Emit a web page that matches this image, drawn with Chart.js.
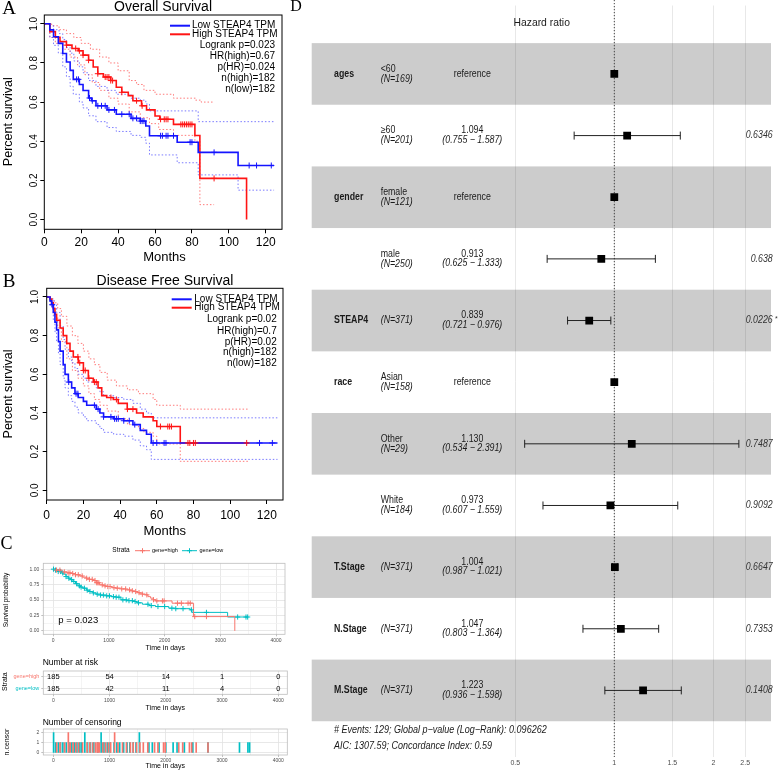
<!DOCTYPE html>
<html>
<head>
<meta charset="utf-8">
<title>STEAP4 survival</title>
<script src="https://cdn.jsdelivr.net/npm/chart.js@4.4.1/dist/chart.umd.min.js"></script>
<style>
  html, body { margin: 0; padding: 0; background: #fff; }
  #fig { position: relative; width: 778px; height: 772px; overflow: hidden; }
  #fig canvas { position: absolute; }
</style>
</head>
<body>
<div id="fig">
  <canvas id="cA" width="290" height="264" style="left:0;top:0"></canvas>
  <canvas id="cB" width="290" height="276" style="left:0;top:264px"></canvas>
  <canvas id="cC1" width="290" height="120" style="left:0;top:535px"></canvas>
  <canvas id="cC2" width="290" height="60" style="left:0;top:655px"></canvas>
  <canvas id="cC3" width="290" height="57" style="left:0;top:715px"></canvas>
  <canvas id="cD" width="488" height="772" style="left:290px;top:0"></canvas>
</div>
<script>
// ---------- data ----------
const monthTicks = [0, 20, 40, 60, 80, 100, 120];
const survTicks = [0, 0.2, 0.4, 0.6, 0.8, 1.0];

// A: overall survival, [months, survival]
const osLow = [[0,1],[3,0.969],[5,0.934],[7.6,0.9],[10,0.848],[12,0.805],[14,0.762],[15.7,0.716],[19,0.69],[21,0.659],[24,0.621],[25.6,0.607],[28,0.581],[34,0.56],[39,0.538],[47,0.517],[52,0.503],[55,0.478],[57,0.428],[72,0.395],[83.4,0.343],[105,0.276],[124.5,0.276]];
const osHigh = [[0,1],[3,0.96],[6,0.931],[8.5,0.909],[12,0.891],[15,0.874],[18.4,0.862],[21,0.84],[24,0.814],[26.5,0.779],[29,0.745],[32,0.728],[36,0.71],[39,0.676],[42,0.65],[45.5,0.633],[48,0.607],[52.7,0.581],[55.4,0.56],[60,0.529],[62.6,0.512],[70,0.486],[81.6,0.429],[84.3,0.21],[109.6,0]];
const osLowUp = [[0,1],[3,0.99],[5,0.97],[8,0.95],[10,0.92],[12,0.88],[14,0.85],[16,0.81],[19,0.78],[21,0.75],[24,0.71],[28,0.68],[34,0.66],[39,0.64],[47,0.62],[52,0.61],[55,0.59],[57,0.555],[83.4,0.5],[124.5,0.5]];
const osLowLo = [[0,1],[3,0.93],[5,0.89],[7.6,0.85],[10,0.78],[12,0.73],[14,0.68],[15.7,0.64],[19,0.6],[21,0.57],[24,0.53],[28,0.5],[34,0.47],[39,0.45],[47,0.43],[52,0.42],[55,0.39],[57,0.33],[72,0.29],[83.4,0.228],[105,0.15],[124.5,0.15]];
const osHighUp = [[0,1],[4,0.99],[8,0.97],[12,0.95],[16,0.93],[20,0.9],[25,0.87],[30,0.83],[35,0.8],[40,0.76],[46,0.71],[50,0.69],[54,0.66],[60,0.64],[70,0.62],[82,0.61],[85,0.6],[92,0.6]];
const osHighLo = [[0,1],[3,0.93],[6,0.9],[10,0.87],[14,0.83],[18,0.79],[22,0.74],[26,0.7],[30,0.66],[35,0.62],[40,0.59],[46,0.55],[52,0.52],[57,0.49],[62,0.46],[70,0.43],[81.6,0.4],[84.3,0.076],[92,0.076]];
const osLowCens = [17.5, 18.5, 24.5, 26, 29, 31, 33, 35, 38, 42, 46, 48, 50, 52, 53, 54, 63, 64, 66, 67, 70, 79, 80, 92, 111, 115, 123];
const osHighCens = [12, 17, 19, 21, 24, 29, 33, 34, 35, 36, 37, 42, 50, 53, 63, 65, 66, 67, 74, 75, 76, 77, 78, 79, 80, 92];

// B: disease free survival, [months, survival]
const dfsLow = [[0,1],[1.8,0.98],[2.7,0.96],[3.6,0.92],[4.5,0.87],[5.4,0.83],[6.4,0.77],[7.3,0.72],[9,0.65],[10,0.6],[11.8,0.56],[13.6,0.53],[15.4,0.5],[17.2,0.48],[20,0.46],[21.8,0.44],[27,0.42],[29,0.4],[31,0.38],[36.5,0.37],[42,0.36],[47,0.34],[51,0.31],[54.4,0.29],[57,0.245],[125.8,0.245]];
const dfsHigh = [[0,1],[1.8,0.99],[2.7,0.97],[3.6,0.94],[4.5,0.91],[5.4,0.88],[7.3,0.84],[9,0.8],[10.9,0.76],[12.7,0.72],[14.5,0.69],[17.2,0.66],[20,0.62],[22.7,0.58],[25.4,0.56],[28,0.53],[30,0.49],[32.7,0.48],[36.3,0.47],[39,0.45],[43.9,0.42],[49,0.4],[52.6,0.38],[58,0.36],[60,0.33],[72.8,0.245],[110,0.245]];
const dfsLowUp = [[0,1],[2,0.99],[4,0.96],[5.4,0.92],[7.3,0.85],[9,0.78],[10,0.73],[11.8,0.69],[13.6,0.66],[15.4,0.63],[17.2,0.6],[20,0.58],[21.8,0.56],[27,0.53],[29,0.51],[31,0.49],[36.5,0.48],[42,0.47],[47,0.45],[51,0.42],[54.4,0.4],[57,0.375],[125.8,0.375]];
const dfsLowLo = [[0,1],[2,0.95],[3.6,0.88],[4.5,0.82],[5.4,0.77],[6.4,0.71],[7.3,0.65],[9,0.58],[10,0.53],[11.8,0.49],[13.6,0.46],[15.4,0.43],[17.2,0.4],[20,0.38],[21.8,0.36],[27,0.34],[29,0.32],[31,0.3],[36.5,0.29],[42,0.28],[47,0.26],[51,0.23],[54.4,0.21],[57,0.16],[125.8,0.16]];
const dfsHighUp = [[0,1],[2,0.99],[4,0.97],[6,0.94],[8,0.9],[11,0.85],[14,0.8],[17,0.76],[20,0.72],[23,0.68],[26,0.65],[29,0.61],[33,0.57],[38,0.54],[44,0.52],[50,0.5],[58,0.47],[60,0.44],[72.8,0.42],[110,0.42]];
const dfsHighLo = [[0,1],[2,0.96],[4,0.9],[6,0.84],[8,0.77],[11,0.68],[14,0.62],[17,0.58],[20,0.54],[23,0.5],[26,0.47],[29,0.44],[33,0.41],[39,0.37],[44,0.34],[50,0.32],[53,0.3],[58,0.28],[60,0.24],[72.8,0.15],[110,0.15]];
const dfsLowCens = [3, 12, 16, 17, 26, 28, 31, 35, 37, 38, 39, 42, 45, 48, 58, 60, 64, 65, 116, 123];
const dfsHighCens = [17, 18, 20, 21, 23, 26, 27, 35, 38, 44, 47, 62, 66, 67, 68, 77, 78, 80, 81, 109];

// C: survival in days, number at risk, censoring
const dayTicks = [0, 1000, 2000, 3000, 4000];
const dayMinor = [500, 1500, 2500, 3500];
const probTicks = [0, 0.25, 0.5, 0.75, 1];
const probMinor = [0.125, 0.375, 0.625, 0.875];
const kmHigh = [[0,1],[60,0.985],[148,0.955],[250,0.94],[326,0.93],[400,0.91],[474,0.89],[530,0.87],[593,0.854],[650,0.835],[711,0.816],[770,0.78],[830,0.746],[900,0.73],[948,0.719],[1050,0.7],[1126,0.692],[1220,0.68],[1304,0.665],[1380,0.65],[1422,0.638],[1500,0.62],[1541,0.611],[1600,0.595],[1659,0.584],[1700,0.555],[1748,0.53],[1800,0.505],[1837,0.486],[2133,0.449],[2519,0.232],[3259,0]];
const kmLow = [[0,1],[30,0.985],[89,0.962],[140,0.94],[178,0.919],[230,0.88],[267,0.854],[310,0.83],[356,0.8],[400,0.765],[444,0.73],[490,0.71],[533,0.692],[600,0.66],[652,0.638],[710,0.615],[770,0.595],[850,0.58],[948,0.568],[1040,0.555],[1126,0.546],[1215,0.503],[1320,0.49],[1422,0.476],[1500,0.455],[1600,0.432],[1720,0.41],[1837,0.395],[2074,0.368],[2200,0.36],[2459,0.341],[2489,0.3],[3130,0.225],[3490,0.225]];
const censHighDays = [60, 120, 200, 267, 300, 350, 400, 450, 520, 600, 650, 700, 750, 780, 800, 820, 880, 930, 980, 1020, 1090, 1150, 1230, 1300, 1370, 1420, 1480, 1540, 1600, 1680, 1800, 1860, 1960, 1990, 2230, 2300, 2420, 2460, 2540, 2750];
const censHighN = [1, 1, 1, 2, 1, 1, 1, 1, 1, 1, 1, 1, 1, 1, 1, 1, 1, 1, 1, 1, 2, 1, 1, 1, 1, 1, 1, 1, 1, 1, 1, 1, 1, 1, 1, 1, 1, 1, 1, 1];
const censLowDays = [5, 40, 90, 130, 170, 230, 280, 330, 370, 420, 470, 500, 560, 610, 660, 720, 790, 850, 900, 960, 1010, 1080, 1130, 1180, 1250, 1310, 1360, 1420, 1470, 1530, 1700, 1760, 1880, 2000, 2130, 2200, 2330, 2480, 2750, 3310, 3460, 3490];
const censLowN = [2, 1, 1, 1, 1, 1, 1, 1, 1, 1, 1, 1, 2, 1, 1, 1, 1, 2, 1, 1, 1, 1, 1, 1, 1, 1, 1, 1, 1, 2, 1, 1, 1, 1, 1, 1, 1, 1, 1, 1, 1, 1];
const riskGroups = ['gene=high', 'gene=low'];
const riskDays = [0, 1000, 2000, 3000, 4000];
const riskHigh = [185, 54, 14, 1, 0];
const riskLow = [185, 42, 11, 4, 0];
const censTicks = [0, 1, 2];

// D: multivariate Cox model
const fpVars = ['ages', '', 'gender', '', 'STEAP4', 'race', '', '', 'T.Stage', 'N.Stage', 'M.Stage'];
const fpLevels = ['<60', '\u226560', 'female', 'male', '', 'Asian', 'Other', 'White', '', '', ''];
const fpN = [169, 201, 121, 250, 371, 158, 29, 184, 371, 371, 371];
const fpHR = [1, 1.094, 1, 0.913, 0.839, 1, 1.130, 0.973, 1.004, 1.047, 1.223];
const fpLow = [null, 0.755, null, 0.625, 0.721, null, 0.534, 0.607, 0.987, 0.803, 0.936];
const fpHigh = [null, 1.587, null, 1.333, 0.976, null, 2.391, 1.559, 1.021, 1.364, 1.598];
const fpP = ['', '0.6346', '', '0.638', '0.0226', '', '0.7487', '0.9092', '0.6647', '0.7353', '0.1408'];
const fpStar = ['', '', '', '', '*', '', '', '', '', '', ''];
const hrTicks = [0.5, 1, 1.5, 2, 2.5];

// ---------- look ----------
const SANS = '"Liberation Sans", Arial, Helvetica, sans-serif';
const SERIF = '"Liberation Serif", "Times New Roman", serif';
const BLUE = '#1414ff', RED = '#ff1414';
const BLUE_CI = 'rgba(90,90,255,0.8)', RED_CI = 'rgba(255,90,90,0.8)';
const SALMON = '#F8766D', TEAL = '#00BFC4';
const GG_TEXT = '#4d4d4d', GG_BORDER = '#bdbdbd', GG_MAJOR = '#e2e2e2', GG_MINOR = '#f1f1f1';

Chart.defaults.animation = false;
Chart.defaults.font.family = SANS;
Chart.defaults.plugins.legend.display = false;
Chart.defaults.plugins.tooltip.enabled = false;
Chart.defaults.responsive = false;

function pts(arr) { return arr.map(p => ({x: p[0], y: p[1]})); }
function stepAt(curve, t) {
  let v = curve[0][1];
  curve.forEach(p => { if (p[0] <= t) v = p[1]; });
  return v;
}
function txt(c, t, x, y, o) {
  o = o || {};
  c.save();
  c.font = o.font || ('10px ' + SANS);
  c.fillStyle = o.color || '#000';
  c.textAlign = o.align || 'center';
  c.textBaseline = 'middle';
  c.translate(x, y);
  if (o.rot) c.rotate(o.rot);
  if (o.sx) c.scale(o.sx, 1);
  c.fillText(t, 0, 0);
  c.restore();
}
function seg(c, x1, y1, x2, y2, color, lw, dash) {
  c.save();
  c.strokeStyle = color; c.lineWidth = lw || 1;
  if (dash) c.setLineDash(dash);
  c.beginPath(); c.moveTo(x1, y1); c.lineTo(x2, y2); c.stroke();
  c.restore();
}
const UP = -Math.PI / 2;

// ---------- A and B: GEPIA style KM plots ----------
function kmPanel(id, h, area, groups, deco) {
  const [L, T, R, B] = area;
  const ds = [];
  groups.forEach(g => {
    ds.push({data: pts(g.line), borderColor: g.color, borderWidth: 1.6, stepped: true, pointRadius: 0, order: 1});
    ds.push({data: g.cens.map(t => ({x: t, y: stepAt(g.line, t)})), showLine: false, pointStyle: 'cross',
             pointRadius: 3, borderColor: g.color, borderWidth: 1, order: 0});
    g.ci.forEach(b => ds.push({data: pts(b), borderColor: g.ciColor, borderWidth: 1, borderDash: [1.5, 2],
                               stepped: true, pointRadius: 0, order: 2}));
  });
  new Chart(document.getElementById(id), {
    type: 'line',
    data: {datasets: ds},
    options: {
      layout: {padding: {left: 0, top: T, right: 290 - R, bottom: 0}},
      scales: {
        x: {type: 'linear', min: 0, max: 128.8,
            afterFit: s => { s.height = h - B; },
            afterBuildTicks: s => { s.ticks = monthTicks.map(v => ({value: v})); },
            ticks: {autoSkip: false, maxRotation: 0, font: {size: 12}, color: '#000', padding: deco.xPad},
            grid: {drawOnChartArea: false, tickLength: 4, color: '#000'},
            border: {display: false}},
        y: {type: 'linear', min: -0.05, max: 1.045,
            afterFit: s => { s.width = L; },
            afterBuildTicks: s => { s.ticks = survTicks.map(v => ({value: v})); },
            ticks: {display: false},
            grid: {drawOnChartArea: false, tickLength: 4, color: '#000'},
            border: {display: false}}
      }
    },
    plugins: [{
      id: 'kmDeco',
      afterDraw(chart) {
        const c = chart.ctx, a = chart.chartArea, ys = chart.scales.y;
        c.save(); c.strokeStyle = '#000'; c.lineWidth = 1;
        c.strokeRect(a.left, a.top, a.width, a.height); c.restore();
        survTicks.forEach(v => txt(c, v.toFixed(1), deco.yTickX, ys.getPixelForValue(v), {font: '10px ' + SANS, rot: UP}));
        txt(c, deco.letter, deco.letterXY[0], deco.letterXY[1], {font: '19px ' + SERIF});
        txt(c, deco.title, deco.titleXY[0], deco.titleXY[1], {font: '14px ' + SANS});
        txt(c, 'Months', deco.xLabXY[0], deco.xLabXY[1], {font: '13px ' + SANS});
        txt(c, 'Percent survival', deco.yLabXY[0], deco.yLabXY[1], {font: '12.5px ' + SANS, rot: UP});
        const lg = deco.legend;
        lg.keys.forEach(k => {
          seg(c, lg.x1, k.y, lg.x2, k.y, k.color, 2);
          txt(c, k.t, lg.tx, k.y, {font: '10px ' + SANS, align: 'left'});
        });
        lg.stats.forEach(s => txt(c, s.t, lg.sx, s.y, {font: '10px ' + SANS, align: 'right'}));
      }
    }]
  });
}

kmPanel('cA', 264, [44.3, 15, 282, 229.3], [
  {line: osLow, cens: osLowCens, color: BLUE, ci: [osLowUp, osLowLo], ciColor: BLUE_CI},
  {line: osHigh, cens: osHighCens, color: RED, ci: [osHighUp, osHighLo], ciColor: RED_CI}
], {
  xPad: 2, yTickX: 34.5, letter: 'A', letterXY: [9, 9], title: 'Overall Survival', titleXY: [163, 7.5],
  xLabXY: [164.5, 257.5], yLabXY: [8.5, 121.7],
  legend: {x1: 170, x2: 190, tx: 192, sx: 275,
    keys: [{y: 25.7, color: BLUE, t: 'Low STEAP4 TPM'}, {y: 34.3, color: RED, t: 'High STEAP4 TPM'}],
    stats: [{y: 45, t: 'Logrank p=0.023'}, {y: 56.3, t: 'HR(high)=0.67'}, {y: 67.6, t: 'p(HR)=0.024'},
            {y: 78.6, t: 'n(high)=182'}, {y: 89.3, t: 'n(low)=182'}]}
});

kmPanel('cB', 276, [46.7, 24.3, 283, 236], [
  {line: dfsLow, cens: dfsLowCens, color: BLUE, ci: [dfsLowUp, dfsLowLo], ciColor: BLUE_CI},
  {line: dfsHigh, cens: dfsHighCens, color: RED, ci: [dfsHighUp, dfsHighLo], ciColor: RED_CI}
], {
  xPad: 4, yTickX: 35.5, letter: 'B', letterXY: [9, 17.7], title: 'Disease Free Survival', titleXY: [165, 17],
  xLabXY: [164.7, 267.7], yLabXY: [8.5, 130],
  legend: {x1: 171.7, x2: 191.7, tx: 194.3, sx: 276.7,
    keys: [{y: 35.3, color: BLUE, t: 'Low STEAP4 TPM'}, {y: 43.7, color: RED, t: 'High STEAP4 TPM'}],
    stats: [{y: 55.3, t: 'Logrank p=0.02'}, {y: 67, t: 'HR(high)=0.7'}, {y: 78.3, t: 'p(HR)=0.02'},
            {y: 88.7, t: 'n(high)=182'}, {y: 99.3, t: 'n(low)=182'}]}
});

// ---------- C: survminer style ----------
const DAY_MIN = -178, DAY_MAX = 4160;
function dayAxis(h, B, withMinor) {
  const all = withMinor ? dayTicks.concat(dayMinor) : dayTicks;
  return {
    type: 'linear', min: DAY_MIN, max: DAY_MAX, offset: false,
    afterFit: s => { s.height = h - B; },
    afterBuildTicks: s => { s.ticks = all.map(v => ({value: v})); },
    ticks: {autoSkip: false, maxRotation: 0, font: {size: 5}, color: GG_TEXT, padding: 1,
            callback: v => dayTicks.includes(v) ? String(v) : ''},
    grid: {offset: false, tickLength: 2, lineWidth: 0.8,
           color: ctx => dayTicks.includes(ctx.tick.value) ? GG_MAJOR : GG_MINOR,
           tickColor: ctx => dayTicks.includes(ctx.tick.value) ? '#b0b0b0' : 'rgba(0,0,0,0)'},
    border: {display: false}
  };
}
function ggBox(id) {
  return {id: id, afterDatasetsDraw(chart) {
    const c = chart.ctx, a = chart.chartArea;
    c.save(); c.strokeStyle = GG_BORDER; c.lineWidth = 0.8;
    c.strokeRect(a.left, a.top, a.width, a.height); c.restore();
  }};
}

// C1: KM curves
new Chart(document.getElementById('cC1'), {
  type: 'line',
  data: {datasets: [
    {data: pts(kmHigh), borderColor: SALMON, borderWidth: 1, stepped: true, pointRadius: 0, order: 1},
    {data: pts(kmLow), borderColor: TEAL, borderWidth: 1, stepped: true, pointRadius: 0, order: 1},
    {data: censHighDays.map(t => ({x: t, y: stepAt(kmHigh, t)})), showLine: false, pointStyle: 'cross',
     pointRadius: 2.6, borderColor: SALMON, borderWidth: 1, order: 0},
    {data: censLowDays.map(t => ({x: t, y: stepAt(kmLow, t)})), showLine: false, pointStyle: 'cross',
     pointRadius: 2.6, borderColor: TEAL, borderWidth: 1, order: 0}
  ]},
  options: {
    layout: {padding: {left: 0, top: 28.3, right: 290 - 287.3, bottom: 0}},
    scales: {
      x: dayAxis(120, 99.3, true),
      y: {type: 'linear', min: -0.055, max: 1.095,
          afterFit: s => { s.width = 43.3; },
          afterBuildTicks: s => { s.ticks = probTicks.concat(probMinor).map(v => ({value: v})); },
          ticks: {autoSkip: false, font: {size: 5}, color: GG_TEXT, padding: 2,
                  callback: v => probTicks.includes(v) ? v.toFixed(2) : ''},
          grid: {tickLength: 2, lineWidth: 0.8,
                 color: ctx => probTicks.includes(ctx.tick.value) ? GG_MAJOR : GG_MINOR,
                 tickColor: ctx => probTicks.includes(ctx.tick.value) ? '#b0b0b0' : 'rgba(0,0,0,0)'},
          border: {display: false}}
    }
  },
  plugins: [ggBox('c1box'), {
    id: 'c1deco',
    afterDraw(chart) {
      const c = chart.ctx;
      txt(c, 'C', 6.5, 9, {font: '18px ' + SERIF});
      txt(c, 'Strata', 121, 15.7, {font: '6.5px ' + SANS});
      [[135, 150, 152, SALMON, 'gene=high'], [182, 197, 199.5, TEAL, 'gene=low']].forEach(k => {
        seg(c, k[0], 15.7, k[1], 15.7, k[3], 1);
        const m = (k[0] + k[1]) / 2;
        seg(c, m - 2.5, 15.7, m + 2.5, 15.7, k[3], 1);
        seg(c, m, 13.2, m, 18.2, k[3], 1);
        txt(c, k[4], k[2], 15.7, {font: '5.5px ' + SANS, align: 'left'});
      });
      txt(c, 'Survival probability', 6.5, 65, {font: '6.5px ' + SANS, rot: UP});
      txt(c, 'Time in days', 165.3, 113.3, {font: '7px ' + SANS});
      txt(c, 'p = 0.023', 58.3, 85, {font: '9.5px ' + SANS, align: 'left'});
    }
  }]
});

// C2: number at risk
new Chart(document.getElementById('cC2'), {
  type: 'line',
  data: {datasets: []},
  options: {
    layout: {padding: {left: 0, top: 16, right: 290 - 287.3, bottom: 0}},
    scales: {
      x: dayAxis(60, 39.3, true),
      y: {type: 'category', labels: riskGroups, offset: true,
          afterFit: s => { s.width = 43.3; },
          ticks: {autoSkip: false, font: {size: 5.5}, padding: 2, color: ctx => ctx.index === 0 ? SALMON : TEAL},
          grid: {tickLength: 2, lineWidth: 0.8, color: GG_MAJOR, tickColor: '#b0b0b0'},
          border: {display: false}}
    }
  },
  plugins: [ggBox('c2box'), {
    id: 'c2deco',
    afterDraw(chart) {
      const c = chart.ctx, xs = chart.scales.x, ys = chart.scales.y;
      riskDays.forEach((d, i) => {
        txt(c, String(riskHigh[i]), xs.getPixelForValue(d), ys.getPixelForValue(0), {font: '7.5px ' + SANS});
        txt(c, String(riskLow[i]), xs.getPixelForValue(d), ys.getPixelForValue(1), {font: '7.5px ' + SANS});
      });
      txt(c, 'Number at risk', 42.7, 7.3, {font: '8.5px ' + SANS, align: 'left'});
      txt(c, 'Strata', 4.7, 26.7, {font: '7px ' + SANS, rot: UP});
      txt(c, 'Time in days', 165.3, 52.7, {font: '7px ' + SANS});
    }
  }]
});

// C3: number of censoring
new Chart(document.getElementById('cC3'), {
  type: 'bar',
  data: {datasets: [
    {data: censHighDays.map((t, i) => ({x: t, y: censHighN[i]})), backgroundColor: SALMON, barThickness: 1, grouped: false},
    {data: censLowDays.map((t, i) => ({x: t, y: censLowN[i]})), backgroundColor: TEAL, barThickness: 1, grouped: false}
  ]},
  options: {
    layout: {padding: {left: 0, top: 14, right: 290 - 287.3, bottom: 0}},
    scales: {
      x: dayAxis(57, 40, true),
      y: {type: 'linear', min: -0.23, max: 2.37,
          afterFit: s => { s.width = 43.3; },
          afterBuildTicks: s => { s.ticks = censTicks.map(v => ({value: v})); },
          ticks: {autoSkip: false, font: {size: 5}, color: GG_TEXT, padding: 2},
          grid: {tickLength: 2, lineWidth: 0.8, color: GG_MAJOR, tickColor: '#b0b0b0'},
          border: {display: false}}
    }
  },
  plugins: [ggBox('c3box'), {
    id: 'c3deco',
    afterDraw(chart) {
      const c = chart.ctx;
      txt(c, 'Number of censoring', 42.7, 7.7, {font: '8.5px ' + SANS, align: 'left'});
      txt(c, 'n.censor', 7, 27, {font: '7px ' + SANS, rot: UP});
      txt(c, 'Time in days', 165.3, 50.7, {font: '7px ' + SANS});
    }
  }]
});

// ---------- D: forest plot ----------
const FP_SX = 0.88;
const fpFont = (s, st) => (st || '') + ' ' + s + 'px ' + SANS;
new Chart(document.getElementById('cD'), {
  type: 'scatter',
  data: {datasets: [{
    data: fpHR.map((v, i) => ({x: v, y: i + 1})),
    pointStyle: 'rect', pointRadius: 5.5, backgroundColor: '#000', borderColor: '#000', borderWidth: 0
  }]},
  options: {
    layout: {padding: {left: 21.7, top: 3, right: 488 - 481, bottom: 0}},
    scales: {
      x: {type: 'logarithmic', min: 0.1203, max: 2.994,
          afterFit: s => { s.height = 772 - 757; },
          afterBuildTicks: s => { s.ticks = hrTicks.map(v => ({value: v})); },
          ticks: {autoSkip: false, maxRotation: 0, font: {size: 7}, color: GG_TEXT, padding: 2, callback: v => String(v)},
          grid: {drawTicks: false, color: '#e2e2e2', lineWidth: 0.8},
          border: {display: false}},
      y: {display: false, type: 'linear', min: -0.11, max: 12.08, reverse: true}
    }
  },
  plugins: [{
    id: 'forest',
    beforeDatasetsDraw(chart) {
      const c = chart.ctx, a = chart.chartArea, xs = chart.scales.x, ys = chart.scales.y;
      fpHR.forEach((v, i) => {
        if (i % 2 === 0) {
          const y1 = ys.getPixelForValue(i + 0.5), y2 = ys.getPixelForValue(i + 1.5);
          c.save(); c.fillStyle = 'rgba(0,0,0,0.2)'; c.fillRect(a.left, y1, a.width, y2 - y1); c.restore();
        }
      });
      const x1 = xs.getPixelForValue(1);
      seg(c, x1, 0, x1, a.bottom, '#444', 1, [1.2, 1.8]);
      fpHR.forEach((v, i) => {
        if (fpLow[i] === null) return;
        const y = ys.getPixelForValue(i + 1), l = xs.getPixelForValue(fpLow[i]), r = xs.getPixelForValue(fpHigh[i]);
        seg(c, l, y, r, y, '#222', 1);
        seg(c, l, y - 4, l, y + 4, '#222', 1);
        seg(c, r, y - 4, r, y + 4, '#222', 1);
      });
    },
    afterDraw(chart) {
      const c = chart.ctx, ys = chart.scales.y;
      const dark = '#1a1a1a';
      fpHR.forEach((v, i) => {
        const y = ys.getPixelForValue(i + 1);
        if (fpVars[i]) txt(c, fpVars[i], 44, y, {font: fpFont(10, 'bold'), color: dark, align: 'left', sx: FP_SX});
        const nTxt = '(N=' + fpN[i] + ')';
        if (fpLevels[i]) {
          txt(c, fpLevels[i], 90.7, y - 5, {font: fpFont(10), color: dark, align: 'left', sx: FP_SX});
          txt(c, nTxt, 90.7, y + 5, {font: fpFont(10, 'italic'), color: dark, align: 'left', sx: FP_SX});
        } else {
          txt(c, nTxt, 90.7, y, {font: fpFont(10, 'italic'), color: dark, align: 'left', sx: FP_SX});
        }
        if (fpLow[i] === null) {
          txt(c, 'reference', 182.3, y, {font: fpFont(10), color: dark, sx: FP_SX});
        } else {
          txt(c, v.toFixed(3), 182.3, y - 5, {font: fpFont(10), color: dark, sx: FP_SX});
          txt(c, '(' + fpLow[i].toFixed(3) + ' \u2212 ' + fpHigh[i].toFixed(3) + ')', 182.3, y + 4.5,
              {font: fpFont(10, 'italic'), color: dark, sx: FP_SX});
        }
        if (fpP[i]) txt(c, fpP[i], 482.7, y, {font: fpFont(10, 'italic'), color: '#333', align: 'right', sx: FP_SX});
        if (fpStar[i]) txt(c, fpStar[i], 485, y - 1.5, {font: fpFont(7), color: '#333', align: 'left'});
      });
      txt(c, 'D', 6, 7, {font: '16px ' + SERIF});
      txt(c, 'Hazard ratio', 251.7, 23, {font: fpFont(11.5), color: dark, sx: 0.9});
      txt(c, '# Events: 129; Global p\u2212value (Log\u2212Rank): 0.096262', 44, 730,
          {font: fpFont(10, 'italic'), color: dark, align: 'left', sx: 0.9});
      txt(c, 'AIC: 1307.59; Concordance Index: 0.59', 44, 746,
          {font: fpFont(10, 'italic'), color: dark, align: 'left', sx: 0.9});
    }
  }]
});
</script>
</body>
</html>
